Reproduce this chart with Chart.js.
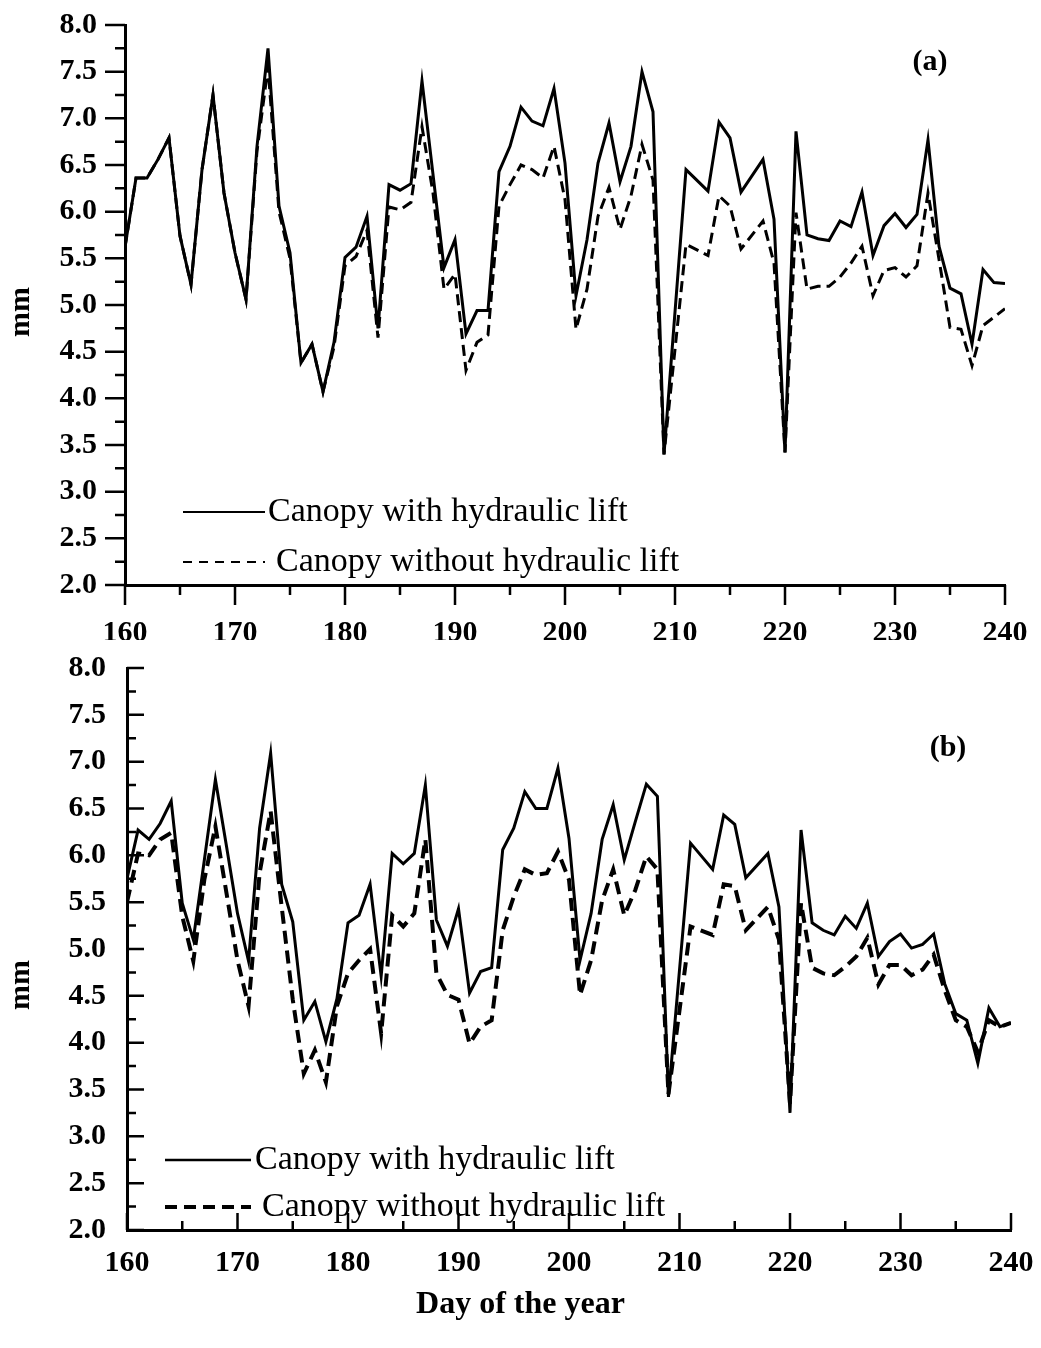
<!DOCTYPE html>
<html>
<head>
<meta charset="utf-8">
<script src="https://cdn.jsdelivr.net/npm/chart.js@4.4.1/dist/chart.umd.min.js"></script>
<style>
  html, body { margin: 0; padding: 0; background: #fff; }
  #wrap { position: relative; width: 1041px; height: 1348px; }
  canvas { position: absolute; left: 0; }
  #chartA { top: 0; }
  #chartB { top: 640px; }
</style>
</head>
<body>
<div id="wrap">
  <canvas id="chartA" width="1041" height="640"></canvas>
  <canvas id="chartB" width="1041" height="708"></canvas>
</div>
<script>
// day of year (days 210, 212 and 217 show no vertex in the figure)
const days = [160,161,162,163,164,165,166,167,168,169,170,171,172,173,174,175,176,177,178,179,
  180,181,182,183,184,185,186,187,188,189,190,191,192,193,194,195,196,197,198,199,
  200,201,202,203,204,205,206,207,208,209,211,213,214,215,216,218,219,
  220,221,222,223,224,225,226,227,228,229,230,231,232,233,234,235,236,237,238,239,240];

// panel (a)
const aWith = [5.62,6.36,6.36,6.56,6.79,5.74,5.22,6.45,7.25,6.2,5.56,5.06,6.7,7.75,6.06,5.56,4.38,4.58,4.07,4.6,
  5.51,5.62,5.95,4.75,6.29,6.23,6.3,7.4,6.4,5.4,5.7,4.69,4.94,4.94,6.43,6.7,7.12,6.97,6.92,7.32,
  6.52,5.1,5.7,6.52,6.95,6.32,6.7,7.5,7.07,3.4,6.45,6.22,6.96,6.79,6.21,6.56,5.92,
  3.42,6.86,5.75,5.71,5.69,5.9,5.84,6.21,5.53,5.85,5.98,5.83,5.97,6.77,5.63,5.18,5.12,4.58,5.38,5.24,5.23];
const aWithout = [5.62,6.36,6.36,6.56,6.79,5.74,5.22,6.45,7.25,6.2,5.56,5.06,6.65,7.55,6.0,5.5,4.38,4.58,4.07,4.55,
  5.42,5.52,5.8,4.65,6.05,6.02,6.1,6.91,6.2,5.17,5.33,4.3,4.6,4.68,6.06,6.29,6.5,6.45,6.36,6.7,
  6.13,4.74,5.17,5.95,6.26,5.81,6.17,6.72,6.34,3.4,5.65,5.53,6.17,6.06,5.6,5.9,5.45,
  3.42,5.99,5.17,5.2,5.2,5.3,5.45,5.63,5.1,5.37,5.4,5.3,5.42,6.2,5.49,4.76,4.74,4.35,4.78,4.87,4.96];

// panel (b)
const bWith = [5.75,6.27,6.17,6.34,6.58,5.49,5.1,5.95,6.81,6.1,5.38,4.87,6.29,7.09,5.69,5.29,4.24,4.44,4.01,4.47,
  5.28,5.36,5.69,4.71,6.02,5.91,6.02,6.75,5.31,5.03,5.43,4.53,4.76,4.8,6.06,6.29,6.68,6.5,6.5,6.93,
  6.18,4.88,5.38,6.17,6.54,5.95,6.36,6.76,6.63,3.42,6.13,5.85,6.43,6.33,5.76,6.02,5.45,
  3.25,6.27,5.28,5.2,5.15,5.35,5.22,5.49,4.92,5.08,5.16,5.01,5.05,5.16,4.63,4.31,4.24,3.78,4.37,4.17,4.21];
const bWithout = [5.5,6.02,6.0,6.17,6.24,5.35,4.87,5.74,6.31,5.6,4.88,4.39,5.81,6.47,5.45,4.46,3.67,3.92,3.58,4.39,
  4.74,4.88,5.0,4.1,5.36,5.24,5.38,6.17,4.74,4.51,4.46,3.99,4.17,4.24,5.2,5.56,5.85,5.79,5.81,6.04,
  5.74,4.51,4.88,5.52,5.85,5.36,5.63,5.99,5.85,3.45,5.24,5.15,5.69,5.67,5.2,5.45,5.1,
  3.35,5.49,4.8,4.74,4.72,4.81,4.92,5.12,4.62,4.83,4.83,4.72,4.78,4.94,4.56,4.24,4.17,3.9,4.24,4.17,4.21];

const seriesNames = ['Canopy with hydraulic lift', 'Canopy without hydraulic lift'];
const xMin = 160, xMax = 240, xMajor = 10, xMinor = 5;
const yMin = 2, yMax = 8, yMajor = 0.5, yMinor = 0.25;

const serif = '"Liberation Serif", "Times New Roman", serif';

function pts(vals) {
  return days.map((d, i) => ({ x: d, y: vals[i] }));
}

// ticks, legend and panel letter
const decor = {
  id: 'decor',
  afterDraw(chart, args, o) {
    const ctx = chart.ctx;
    const xs = chart.scales.x, ys = chart.scales.y;
    const ca = chart.chartArea;
    ctx.save();
    ctx.strokeStyle = '#000';
    ctx.lineWidth = 2.5;
    ctx.beginPath();
    for (let d = xMin; d <= xMax; d += xMinor) {
      const px = xs.getPixelForValue(d);
      const len = d % xMajor === 0 ? o.major : o.minor;
      ctx.moveTo(px, ca.bottom);
      ctx.lineTo(px, ca.bottom + (o.inward ? -len : len));
    }
    for (let v = yMin; v <= yMax + 1e-9; v += yMinor) {
      const py = ys.getPixelForValue(v);
      const major = Math.abs(v / yMajor - Math.round(v / yMajor)) < 1e-6;
      const len = major ? o.major : o.minor;
      ctx.moveTo(ca.left, py);
      ctx.lineTo(ca.left + (o.inward ? len : -len), py);
    }
    ctx.stroke();

    // legend
    ctx.font = o.legendFont;
    ctx.fillStyle = '#000';
    ctx.textBaseline = 'middle';
    chart.data.datasets.forEach((ds, i) => {
      const L = o.legend[i];
      ctx.beginPath();
      ctx.lineWidth = L.w;
      ctx.setLineDash(L.dash);
      ctx.moveTo(L.x0, L.y);
      ctx.lineTo(L.x1, L.y);
      ctx.stroke();
      ctx.setLineDash([]);
      ctx.fillText(ds.label, L.tx, L.y);
    });

    // panel letter
    ctx.font = 'bold 30px ' + serif;
    ctx.textAlign = 'center';
    ctx.fillText(o.letter, o.lx, o.ly);

    // y axis title
    ctx.translate(o.mx, o.my);
    ctx.rotate(-Math.PI / 2);
    ctx.font = 'bold 30px ' + serif;
    ctx.fillText('mm', 0, 0);
    ctx.restore();
  }
};

function makePanel(id, withVals, withoutVals, cfg) {
  return new Chart(document.getElementById(id), {
    type: 'line',
    data: {
      datasets: [
        { label: seriesNames[0], data: pts(withVals), borderColor: '#000', borderWidth: 3,
          pointRadius: 0, tension: 0, fill: false },
        { label: seriesNames[1], data: pts(withoutVals), borderColor: '#000', borderWidth: cfg.dashW,
          borderDash: cfg.dash, pointRadius: 0, tension: 0, fill: false }
      ]
    },
    options: {
      responsive: false,
      animation: false,
      devicePixelRatio: 1,
      layout: { padding: cfg.pad },
      plugins: {
        legend: { display: false },
        tooltip: { enabled: false },
        decor: cfg.decor
      },
      scales: {
        x: {
          type: 'linear', min: xMin, max: xMax,
          // invisible tick marks only to push the labels away from the axis
          grid: { display: true, drawOnChartArea: false, drawTicks: true,
            tickLength: cfg.xGap, tickColor: 'rgba(0,0,0,0)' },
          border: { display: true, color: '#000', width: 3 },
          ticks: { stepSize: xMajor, color: '#000', padding: 0, maxRotation: 0,
            font: { family: serif, size: 30, weight: 'bold' } },
          afterFit(s) { s.height = cfg.xH; }
        },
        y: {
          min: yMin, max: yMax,
          grid: { display: true, drawOnChartArea: false, drawTicks: true,
            tickLength: cfg.yGap, tickColor: 'rgba(0,0,0,0)' },
          border: { display: true, color: '#000', width: 3 },
          ticks: { stepSize: yMajor, color: '#000', padding: 0,
            callback: v => v.toFixed(1),
            font: { family: serif, size: 30, weight: 'bold' } },
          afterFit(s) { s.width = cfg.yW; }
        }
      }
    },
    plugins: [decor]
  });
}

makePanel('chartA', aWith, aWithout, {
  pad: { top: 25, right: 36, left: 0, bottom: 0 },
  xH: 55, yW: 125, xGap: 30, yGap: 28,
  dash: [11, 6], dashW: 3,
  decor: {
    inward: false, major: 20, minor: 10,
    legendFont: '34px ' + serif,
    legend: [
      { x0: 183, x1: 265, y: 512, tx: 268, w: 2, dash: [] },
      { x0: 183, x1: 265, y: 562, tx: 276, w: 2, dash: [9, 7] }
    ],
    letter: '(a)', lx: 930, ly: 62,
    mx: 21, my: 312
  }
});

makePanel('chartB', bWith, bWithout, {
  pad: { top: 28, right: 30, left: 0, bottom: 0 },
  xH: 118, yW: 127, xGap: 15, yGap: 21,
  dash: [13, 7], dashW: 4,
  decor: {
    inward: true, major: 17, minor: 9,
    legendFont: '34px ' + serif,
    legend: [
      { x0: 165, x1: 251, y: 520, tx: 255, w: 2.5, dash: [] },
      { x0: 165, x1: 251, y: 567, tx: 262, w: 4, dash: [12, 7] }
    ],
    letter: '(b)', lx: 948, ly: 108,
    mx: 21, my: 345
  }
});
</script>
<div style="position:absolute; left:0; top:1284px; width:1041px; text-align:center;
  font: bold 32px 'Liberation Serif', 'Times New Roman', serif; color:#000;">Day of the year</div>
</body>
</html>
